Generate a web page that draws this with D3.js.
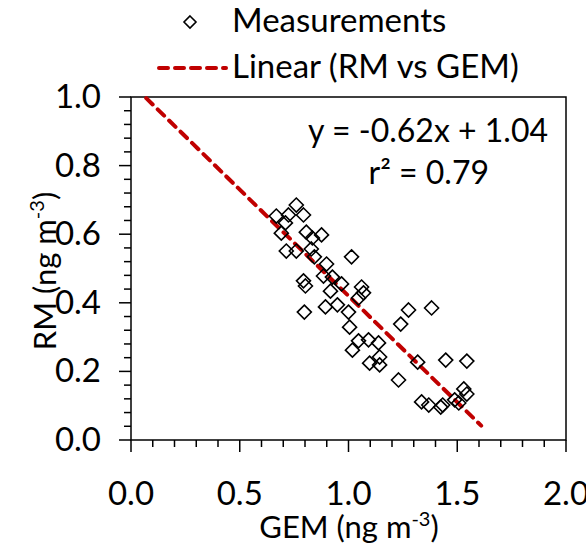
<!DOCTYPE html>
<html><head><meta charset="utf-8">
<script src="https://cdn.jsdelivr.net/npm/d3@7"></script>
<style>body{margin:0;background:#fff}svg{display:block}text{font-family:Lato,"Open Sans",sans-serif;fill:#000}</style>
</head><body>
<svg id="c" width="586" height="544"></svg>
<script>
const gemValues = [0.76,0.668,0.724,0.793,0.71,0.691,0.806,0.876,0.834,0.714,0.76,0.829,0.843,0.899,1.014,0.885,0.926,0.793,0.802,0.917,0.968,1.06,1.069,1.046,0.797,0.894,0.949,1.0,1.005,1.276,1.382,1.24,1.046,1.092,1.138,1.018,1.143,1.097,1.143,1.318,1.447,1.544,1.23,1.53,1.544,1.336,1.369,1.424,1.433,1.488,1.507];
const rmValues = [0.685,0.653,0.656,0.656,0.633,0.603,0.606,0.598,0.589,0.551,0.551,0.557,0.534,0.513,0.534,0.478,0.475,0.464,0.449,0.434,0.455,0.446,0.429,0.414,0.373,0.388,0.394,0.373,0.329,0.379,0.385,0.338,0.289,0.292,0.283,0.262,0.242,0.224,0.219,0.227,0.233,0.23,0.175,0.149,0.134,0.111,0.102,0.096,0.102,0.117,0.108];
const fitSlope = -0.62, fitIntercept = 1.04;
const fitRange = [0.07, 1.61];
const xTicks = [0, 0.5, 1.0, 1.5, 2.0];
const yTicks = [0, 0.2, 0.4, 0.6, 0.8, 1.0];

const FS = 33;
const svg = d3.select("#c");
const L = 131, R = 566, T = 97, B = 440;
const x = d3.scaleLinear().domain([0, 2]).range([L, R]);
const y = d3.scaleLinear().domain([0, 1]).range([B, T]);

svg.append("rect").attr("x", L).attr("y", T).attr("width", R - L).attr("height", B - T)
  .attr("fill", "none").attr("stroke", "#000").attr("stroke-width", 1.5);

const xMinor = d3.range(0, 2.0001, 0.1);
const yMinor = d3.range(0, 1.0001, 0.04);
svg.append("g").selectAll("line").data(xMinor).join("line")
  .attr("x1", d => x(d)).attr("x2", d => x(d)).attr("y1", B).attr("y2", d => B + (Math.abs(d * 2 - Math.round(d * 2)) < 1e-6 ? 12 : 7))
  .attr("stroke", "#000").attr("stroke-width", 1.5);
svg.append("g").selectAll("line").data(yMinor).join("line")
  .attr("y1", d => y(d)).attr("y2", d => y(d)).attr("x1", L).attr("x2", d => L - (Math.abs(d * 5 - Math.round(d * 5)) < 1e-6 ? 12 : 7))
  .attr("stroke", "#000").attr("stroke-width", 1.5);

svg.append("g").selectAll("text").data(xTicks).join("text")
  .attr("x", d => x(d)).attr("y", 505).attr("text-anchor", "middle").attr("font-size", FS)
  .text(d => d.toFixed(1));
svg.append("g").selectAll("text").data(yTicks).join("text")
  .attr("x", 101).attr("y", d => y(d) + 11).attr("text-anchor", "end").attr("font-size", FS)
  .text(d => d.toFixed(1));

const xt = svg.append("text").attr("x", 349).attr("y", 538).attr("text-anchor", "middle").attr("font-size", 31);
xt.append("tspan").text("GEM (ng m");
xt.append("tspan").attr("font-size", 20).attr("dy", -12).text("-3");
xt.append("tspan").attr("dy", 12).text(")");
const yt = svg.append("text").attr("transform", "translate(56,271) rotate(-90)").attr("text-anchor", "middle").attr("font-size", 31);
yt.append("tspan").text("RM (ng m");
yt.append("tspan").attr("font-size", 20).attr("dy", -12).text("-3");
yt.append("tspan").attr("dy", 12).text(")");

svg.append("line")
  .attr("x1", x(fitRange[0])).attr("y1", y(fitSlope * fitRange[0] + fitIntercept))
  .attr("x2", x(fitRange[1])).attr("y2", y(fitSlope * fitRange[1] + fitIntercept))
  .attr("stroke", "#c00000").attr("stroke-width", 4).attr("stroke-dasharray", "9,7").attr("stroke-linecap", "round");

const diamond = s => `M0,${-s}L${s},0L0,${s}L${-s},0Z`;
svg.append("g").selectAll("path").data(gemValues.map((g, i) => [g, rmValues[i]])).join("path")
  .attr("transform", d => `translate(${x(d[0])},${y(d[1])})`)
  .attr("d", diamond(7)).attr("fill", "none").attr("stroke", "#000").attr("stroke-width", 1.6);

svg.append("text").attr("x", 548).attr("y", 142).attr("text-anchor", "end").attr("font-size", 32)
  .text("y = -0.62x + 1.04");
svg.append("text").attr("x", 489).attr("y", 184).attr("text-anchor", "end").attr("font-size", 32)
  .text("r² = 0.79");

svg.append("path").attr("transform", "translate(190,22)").attr("d", diamond(6))
  .attr("fill", "none").attr("stroke", "#000").attr("stroke-width", 1.6);
svg.append("text").attr("x", 232).attr("y", 32).attr("font-size", FS).text("Measurements");
svg.append("line").attr("x1", 159).attr("x2", 226).attr("y1", 68).attr("y2", 68)
  .attr("stroke", "#c00000").attr("stroke-width", 4).attr("stroke-dasharray", "9,7").attr("stroke-linecap", "round");
svg.append("text").attr("x", 232).attr("y", 78).attr("font-size", FS).text("Linear (RM vs GEM)");
</script>
</body></html>
